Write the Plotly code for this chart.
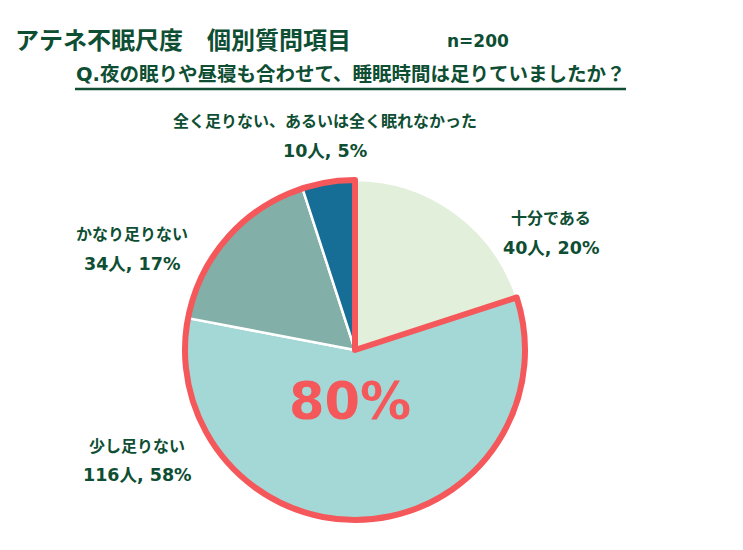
import plotly.graph_objects as go

categories = ["十分である", "少し足りない", "かなり足りない", "全く足りない、あるいは全く眠れなかった"]
counts = [40, 116, 34, 10]
percents = [20, 58, 17, 5]
colors = ["#E2EFDA", "#A3D8D6", "#82B0A8", "#166E96"]
highlight_pct = sum(percents[1:])

W, H = 743, 550
OFF = 8  # page body margin
TXT = "#0E4E33"
RED = "#F5585A"
FONT = "DejaVu Sans, Noto Sans CJK JP"
JFONT = "Noto Sans CJK JP"

def px(x):
    return (x - OFF) / W

def py(y):
    return 1 - (y - OFF) / H

cx, cy, r = 355, 350, 170
dom = dict(x=[px(cx - r), px(cx + r)], y=[py(cy + r), py(cy - r)])

fig = go.Figure()
fig.add_trace(go.Pie(
    labels=categories, values=counts, sort=False, direction="clockwise", rotation=0,
    marker=dict(colors=colors, line=dict(color="white", width=2.5)),
    textinfo="none", hoverinfo="skip", domain=dom, showlegend=False,
))
# red outline around the combined "not enough" share
group_vals = [counts[0], sum(counts[1:])]
fig.add_trace(go.Pie(
    labels=["a", "b"], values=group_vals, sort=False, direction="clockwise", rotation=0,
    marker=dict(colors=["rgba(0,0,0,0)", "rgba(0,0,0,0)"],
                line=dict(color=["rgba(0,0,0,0)", RED], width=[0, 6])),
    textinfo="none", hoverinfo="skip", domain=dom, showlegend=False,
))

label_pos = [(551, 217, 248), (137, 445, 475), (132, 233, 264), (325, 120, 151)]
ann = []
for cat, n, p, (x, y1, y2) in zip(categories, counts, percents, label_pos):
    ann.append(dict(x=px(x), y=py(y1), xref="paper", yref="paper", text=f"<b>{cat}</b>",
                    showarrow=False, xanchor="center", yanchor="middle",
                    font=dict(family=JFONT, size=16, color=TXT)))
    ann.append(dict(x=px(x), y=py(y2), xref="paper", yref="paper", text=f"<b>{n}人, {p}%</b>",
                    showarrow=False, xanchor="center", yanchor="middle",
                    font=dict(family=FONT, size=17.5, color=TXT)))

ann.append(dict(x=px(350), y=py(401), xref="paper", yref="paper", text=f"<b>{highlight_pct}%</b>",
                showarrow=False, xanchor="center", yanchor="middle",
                font=dict(family=FONT, size=51, color=RED)))
ann.append(dict(x=px(13), y=py(38), xref="paper", yref="paper", text="<b>アテネ不眠尺度　個別質問項目</b>",
                showarrow=False, xanchor="left", yanchor="middle",
                font=dict(family=JFONT, size=24, color=TXT)))
ann.append(dict(x=px(478), y=py(41), xref="paper", yref="paper", text="<b>n=200</b>",
                showarrow=False, xanchor="center", yanchor="middle",
                font=dict(family=FONT, size=17, color=TXT)))
ann.append(dict(x=px(351), y=py(74), xref="paper", yref="paper",
                text="<b>Q.夜の眠りや昼寝も合わせて、睡眠時間は足りていましたか？</b>",
                showarrow=False, xanchor="center", yanchor="middle",
                font=dict(family=FONT, size=19.5, color=TXT)))

fig.update_layout(
    width=W, height=H, margin=dict(l=0, r=0, t=0, b=0),
    paper_bgcolor="white", plot_bgcolor="white",
    annotations=ann,
    shapes=[dict(type="line", xref="paper", yref="paper", x0=px(75), x1=px(626), y0=py(89), y1=py(89),
                 line=dict(color=TXT, width=2.5))],
)
fig.write_html("out.html")
